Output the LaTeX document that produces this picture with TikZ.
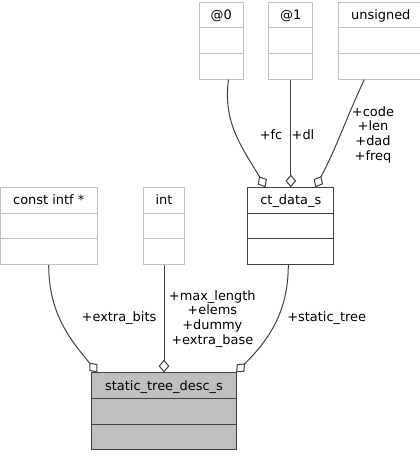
\documentclass[tikz,border=0pt]{standalone}
\usepackage{fontspec}
\setmainfont{DejaVu Sans}
\usetikzlibrary{shapes.multipart, arrows.meta, positioning}
\definecolor{edgegray}{RGB}{64,64,64}
\definecolor{boxgray}{RGB}{191,191,191}

\begin{document}
\begin{tikzpicture}[
        x=0.75pt, y=-0.75pt,
        font=\fontsize{9.7}{11}\selectfont,
        cls/.style={rectangle split, rectangle split parts=3, draw=boxgray, line width=0.75pt,
            inner xsep=0pt, inner ysep=0pt,
            rectangle split empty part height=18.45pt, rectangle split empty part depth=0pt,
            rectangle split empty part width=#1,
            execute at begin node={\rule[-6pt]{0pt}{18.45pt}}},
        doccls/.style={cls=#1, draw=edgegray},
        maincls/.style={cls=#1, draw=edgegray, fill=boxgray},
        member/.style={draw=edgegray, line width=0.75pt, -{Diamond[fill=white, length=9.5pt, width=8pt]}},
        lbl/.style={inner sep=0pt, align=center}
    ]
        \useasboundingbox (0,0) rectangle (420,456);

        % classes
        \node[maincls=103pt] (static) at (164,411.3) {static\_tree\_desc\_s};
        \node[cls=25pt, above=80.5pt of static] (int) {int};
        \node[cls=67.5pt, left=34pt of int] (cintf) {const intf *};
        \node[doccls=59.2pt, right=46.8pt of int] (ct) {ct\_data\_s};
        \node[cls=27.7pt, above=80.7pt of ct] (at1) {@1};
        \node[cls=27.7pt, left=18.3pt of at1] (at0) {@0};
        \node[cls=57.3pt, right=18.75pt of at1] (uns) {unsigned};

        % members
        \draw[member] (cintf.south) to[out=-90, in=130] ([xshift=4.7pt]static.north west);
        \draw[member] (int.south) -- (static.north);
        \draw[member] ([xshift=-1.9pt]ct.south) to[out=-90, in=45] ([xshift=-0.5pt]static.north east);
        \draw[member] ([xshift=5.5pt]at0.south) to[out=-98, in=120] ([xshift=13.7pt]ct.north west);
        \draw[member] (at1.south) -- (ct.north);
        \draw[member] ([xshift=-12.4pt]uns.south) to[out=-115, in=62] ([xshift=-14.3pt]ct.north east);

        % labels
        \node[lbl] (fclbl) at (271,135) {+fc};
        \node[lbl] (dllbl) at (303,135) {+dl};
        \node[lbl] (codelbl) at (373,134.7) {+code\\+len\\+dad\\+freq};
        \node[lbl] (bitslbl) at (119,318.3) {+extra\_bits};
        \node[lbl] (maxlbl) at (212.3,318.7) {+max\_length\\+elems\\+dummy\\+extra\_base};
        \node[lbl] (treelbl) at (326.7,318.3) {+static\_tree};
    \end{tikzpicture}
\end{document}
